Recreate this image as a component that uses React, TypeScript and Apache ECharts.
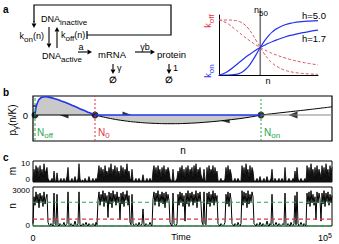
import React, { useEffect, useRef } from 'react';
import * as echarts from 'echarts';

const FONT = 'Liberation Sans, Arial, Helvetica, sans-serif';
const BLUE = '#2233ee';
const RED = '#dd3344';
const RED_DASH = '#d9505e';
const GREEN = '#1fa64f';
const GREY_FILL = '#c9c9c9';

// ---- panel a inset: activation / deactivation rates vs n ----
const HILL_N = [0, 0.2, 0.4, 0.5, 0.6, 0.7, 0.8, 0.9, 1.0, 1.1, 1.2, 1.3, 1.4, 1.6, 1.8, 2.0, 2.2, 2.4];
const KON_H5 = [0, 0.0003, 0.01, 0.03, 0.072, 0.144, 0.247, 0.371, 0.5, 0.617, 0.713, 0.788, 0.843, 0.913, 0.95, 0.97, 0.981, 0.988];
const KON_H17 = [0, 0.061, 0.174, 0.235, 0.296, 0.353, 0.406, 0.455, 0.5, 0.54, 0.577, 0.61, 0.639, 0.69, 0.731, 0.765, 0.793, 0.816];
const KOFF_H5 = [1, 0.9997, 0.99, 0.97, 0.928, 0.856, 0.753, 0.629, 0.5, 0.383, 0.287, 0.212, 0.157, 0.087, 0.05, 0.03, 0.019, 0.012];
const KOFF_H17 = [1, 0.939, 0.826, 0.765, 0.704, 0.647, 0.594, 0.545, 0.5, 0.46, 0.423, 0.39, 0.361, 0.31, 0.269, 0.235, 0.207, 0.184];
const N50 = 1;

// ---- panel b: p_gamma(n/K) ----
const B_N_OFF = 2;
const B_N_0 = 62;
const B_N_ON = 228;
const B_N_MAX = 299;
const BLUE_N = [2, 2.5, 3, 4, 5, 6, 8, 10, 13, 17, 22, 28, 35, 42, 50, 56, 62];
const BLUE_P = [0, 4, 7.5, 11, 13.5, 15.5, 17.3, 18, 18.2, 17.6, 16.2, 14.1, 11.4, 8.4, 4.9, 2.4, 0];
const BLACK_N = [62, 75, 90, 105, 120, 137, 155, 175, 195, 215, 228, 250, 275, 299];
const BLACK_P = [0, -3, -5.6, -7.3, -8.3, -8.7, -8.3, -7, -5, -2.4, 0, 2.5, 5.3, 8.2];

// ---- panel c: stochastic trajectories (protein n in hundreds, mRNA m) ----
const N_TRACE_H = [
  2, 24, 17, 28, 19, 26, 15, 27, 20, 25,
  16, 28, 18, 23, 26, 3, 1, 0, 2, 1,
  0, 27, 2, 1, 26, 1, 0, 2, 1, 0,
  1, 3, 0, 1, 2, 28, 1, 0, 2, 1,
  0, 1, 4, 1, 0, 2, 28, 1, 0, 1,
  2, 0, 1, 3, 1, 0, 2, 1, 0, 1,
  2, 1, 0, 3, 1, 21, 28, 17, 26, 20,
  29, 16, 27, 19, 25, 7, 28, 18, 27, 15,
  29, 20, 26, 17, 28, 19, 24, 5, 27, 18,
  28, 16, 26, 21, 29, 17, 25, 3, 1, 26,
  2, 0, 1, 2, 1, 0, 3, 1, 0, 2,
  14, 1, 0, 2, 1, 0, 1, 3, 1, 0,
  22, 28, 17, 27, 20, 29, 16, 26, 19, 28,
  18, 27, 15, 28, 20, 26, 21, 3, 1, 0,
  27, 2, 1, 0, 2, 26, 17, 28, 19, 27,
  16, 25, 4, 27, 18, 29, 16, 27, 20, 28,
  17, 26, 19, 29, 15, 27, 20, 28, 18, 3,
  1, 28, 2, 1, 27, 18, 28, 16, 26, 19,
  29, 17, 27, 20, 25, 2, 1, 0, 2, 1,
  0, 1, 3, 26, 18, 28, 16, 27, 22, 2,
  1, 0, 2, 1, 0, 3, 1, 0, 2, 29,
  17, 28, 19, 27, 15, 29, 18, 26, 20, 28,
  24, 2, 1, 0, 2, 1, 0, 3, 1, 0,
  2, 1, 0, 1, 4, 1, 0, 2, 1, 26,
  2, 0, 1, 3, 1, 0, 2, 1, 0, 1,
  2, 1, 27, 1, 0, 2, 1, 0, 3, 1,
  0, 2, 25, 1, 28, 2, 0, 1, 3, 1,
  0, 2, 1, 0, 27, 18, 28, 16, 29, 19,
  26, 17, 24, 5, 28, 19, 27, 22, 4, 27,
  18, 29, 16, 27, 20, 28, 17, 26, 19, 25,
];
const M_TRACE = [
  1, 7, 3, 9, 5, 8, 2, 9, 4, 7,
  3, 10, 5, 6, 8, 2, 1, 0, 1, 2,
  0, 6, 1, 0, 5, 1, 0, 1, 2, 0,
  1, 2, 0, 1, 3, 8, 1, 0, 1, 2,
  0, 1, 3, 1, 0, 2, 10, 2, 0, 1,
  1, 0, 2, 1, 0, 1, 3, 1, 0, 1,
  2, 0, 1, 2, 1, 5, 9, 3, 8, 4,
  7, 2, 9, 5, 6, 3, 8, 4, 10, 3,
  7, 5, 9, 2, 8, 4, 6, 2, 9, 4,
  8, 3, 7, 5, 10, 4, 6, 2, 1, 7,
  1, 0, 1, 2, 0, 1, 2, 1, 0, 1,
  4, 1, 0, 1, 2, 0, 1, 2, 1, 0,
  6, 9, 4, 8, 3, 9, 5, 7, 2, 8,
  4, 9, 3, 7, 5, 8, 6, 2, 1, 0,
  7, 1, 0, 1, 2, 6, 3, 8, 4, 9,
  3, 7, 2, 8, 4, 9, 3, 7, 5, 8,
  2, 9, 4, 10, 3, 7, 5, 8, 4, 2,
  1, 7, 1, 0, 8, 3, 9, 4, 7, 5,
  9, 3, 8, 4, 6, 1, 0, 1, 2, 0,
  1, 0, 2, 8, 3, 9, 4, 7, 5, 1,
  0, 1, 2, 0, 1, 2, 1, 0, 1, 9,
  4, 8, 3, 10, 5, 7, 2, 9, 4, 8,
  6, 1, 0, 1, 2, 0, 1, 3, 1, 0,
  1, 2, 0, 1, 3, 1, 0, 1, 2, 7,
  1, 0, 2, 1, 0, 1, 2, 0, 1, 2,
  1, 0, 8, 1, 0, 1, 2, 1, 0, 1,
  2, 1, 6, 1, 8, 2, 0, 1, 2, 1,
  0, 1, 2, 0, 9, 4, 8, 3, 10, 5,
  7, 2, 8, 3, 9, 4, 7, 5, 2, 9,
  4, 8, 3, 10, 5, 7, 2, 9, 4, 8,
];
const T_END = 1e5;
const M_TICKS = ['10', '0'];
const N_TICKS = ['3000', '0'];
const C_N_ON = 1950;
const C_N_0 = 560;
const C_N_OFF = 0;

const RICH: any = {
  s: { fontFamily: FONT, fontSize: 8, lineHeight: 8, verticalAlign: 'bottom' },
  u: { fontFamily: FONT, fontSize: 7, lineHeight: 7, verticalAlign: 'top' },
};

function T(x: number, y: number, text: string, o: any = {}) {
  return {
    type: 'text', x, y, rotation: o.rot || 0, z: 100, silent: true,
    style: {
      text, fontFamily: FONT, fontSize: o.size || 9, fontWeight: o.bold ? 'bold' : 'normal',
      fill: o.color || '#000', align: o.align || 'left', verticalAlign: 'middle',
      lineHeight: o.lh || 15, rich: RICH,
    },
  };
}

function arrowEl(x1: number, y1: number, x2: number, y2: number, L = 4.5, W = 2.4) {
  const dx = x2 - x1, dy = y2 - y1;
  const len = Math.hypot(dx, dy);
  const ux = dx / len, uy = dy / len;
  const bx = x2 - ux * L, by = y2 - uy * L;
  const px = -uy, py = ux;
  return [
    { type: 'line', silent: true, shape: { x1, y1, x2: bx, y2: by }, style: { stroke: '#000', lineWidth: 1.1 } },
    { type: 'polygon', silent: true, shape: { points: [[x2, y2], [bx + px * W, by + py * W], [bx - px * W, by - py * W]] }, style: { fill: '#000' } },
  ];
}

function zip(xs: number[], ys: number[]) {
  return xs.map((x, i) => [x, ys[i]]);
}

export default function App() {
  const ref = useRef<HTMLDivElement>(null);
  useEffect(() => {
    document.body.style.margin = '0';
    const chart = echarts.init(ref.current!, undefined, { renderer: 'svg' });
    const dt = T_END / (N_TRACE_H.length - 1);
    const nData = N_TRACE_H.map((v, i) => [i * dt, v * 100]);
    const mData = M_TRACE.map((v, i) => [i * dt, v]);
    const noAxis = { axisLine: { show: false }, axisTick: { show: false }, axisLabel: { show: false }, splitLine: { show: false } };
    const lbl = { fontFamily: FONT, color: '#000', fontSize: 8, margin: 3, lineHeight: 7 };
    const line = (name: string, x: number, y: number, data: any[], style: any, extra: any = {}) => ({
      type: 'line', name, xAxisIndex: x, yAxisIndex: y, data, showSymbol: false, symbol: 'none',
      silent: true, lineStyle: style, ...extra,
    });
    const hline = (x0: number, x1: number, v: number) => [[x0, v], [x1, v]];

    const graphic: any[] = [
      // panel a diagram
      T(3, 9, 'a', { bold: true, size: 10 }),
      { type: 'polyline', silent: true, shape: { points: [[34, 22], [34, 5], [171, 5], [171, 35], [87, 35]] }, style: { stroke: '#000', fill: null, lineWidth: 1.2 } },
      ...arrowEl(34, 21, 34, 28),
      { type: 'line', silent: true, shape: { x1: 87, y1: 31, x2: 87, y2: 39 }, style: { stroke: '#000', lineWidth: 1.2 } },
      T(41, 19, 'DNA{s|inactive}'),
      ...arrowEl(49, 27, 49, 48),
      ...arrowEl(57, 48, 57, 27),
      T(44, 36, 'k{s|on}(n)', { align: 'right' }),
      T(61, 35, 'k{s|off}(n)'),
      T(42, 56, 'DNA{s|active}'),
      ...arrowEl(78, 52, 92, 52),
      T(81, 47, 'a', { align: 'center' }),
      T(98, 54, 'mRNA', { size: 9.5 }),
      ...arrowEl(135, 52, 155, 52),
      T(145, 47, 'γb', { align: 'center' }),
      T(157, 54, 'protein', { size: 9.5 }),
      ...arrowEl(113, 64, 113, 74),
      T(117, 68, 'γ'),
      T(113, 80, '∅', { align: 'center', bold: true }),
      ...arrowEl(169, 64, 169, 74),
      T(173, 68, '1'),
      T(169, 80, '∅', { align: 'center', bold: true }),
      // panel a inset labels
      T(208, 21, 'k{s|off}', { rot: Math.PI / 2, color: RED, align: 'center' }),
      T(208, 71, 'k{s|on}', { rot: Math.PI / 2, color: BLUE, align: 'center' }),
      T(254, 10, 'n{s|50}'),
      T(302, 15, 'h=5.0', { size: 9.5 }),
      T(302, 38, 'h=1.7', { size: 9.5 }),
      T(268, 81, 'n', { align: 'center' }),
      // panel b labels
      T(3, 92, 'b', { bold: true, size: 10 }),
      T(12, 120, 'p{s|γ}(n/K)', { rot: Math.PI / 2, align: 'center', size: 10 }),
      T(183, 150, 'n', { align: 'center', size: 10 }),
      T(37, 132, 'N{s|off}', { color: GREEN, size: 10 }),
      T(98, 132, 'N{s|0}', { color: RED, size: 10 }),
      T(264, 132, 'N{s|on}', { color: GREEN, size: 10 }),
      // panel c labels
      T(3, 157, 'c', { bold: true, size: 10 }),
      T(12, 171, 'm', { rot: Math.PI / 2, align: 'center', size: 10 }),
      T(12, 206, 'n', { rot: Math.PI / 2, align: 'center', size: 10 }),
      T(30, 163.5, M_TICKS[0], { align: 'right', size: 8, lh: 8 }),
      T(30, 179.5, M_TICKS[1], { align: 'right', size: 8, lh: 8 }),
      T(30, 190, N_TICKS[0], { align: 'right', size: 8, lh: 8 }),
      T(30, 225.5, N_TICKS[1], { align: 'right', size: 8, lh: 8 }),
      T(181, 237, 'Time', { align: 'center' }),
    ];

    chart.setOption({
      animation: false,
      graphic: { elements: graphic },
      grid: [
        { left: 219, top: 15, width: 99, height: 60, outerBoundsMode: 'none' },
        { left: 33, top: 96, width: 299, height: 45, show: true, borderColor: '#000', borderWidth: 1.2, outerBoundsMode: 'none' },
        { left: 33, top: 161, width: 299, height: 21, show: true, borderColor: '#000', borderWidth: 1, outerBoundsMode: 'none' },
        { left: 33, top: 187, width: 299, height: 39, show: true, borderColor: '#000', borderWidth: 1, outerBoundsMode: 'none' },
      ],
      xAxis: [
        { gridIndex: 0, type: 'value', min: 0, max: 2.4, ...noAxis, axisLine: { show: true, onZero: false, lineStyle: { color: '#000', width: 1 } } },
        { gridIndex: 1, type: 'value', min: 0, max: B_N_MAX, ...noAxis },
        { gridIndex: 2, type: 'value', min: 0, max: T_END, ...noAxis },
        {
          gridIndex: 3, type: 'value', min: 0, max: T_END, interval: T_END, ...noAxis,
          axisLabel: {
            show: true, ...lbl, fontSize: 9, margin: 6, lineHeight: 11, alignMaxLabel: 'right',
            formatter: (v: number) => (v === 0 ? '0' : '10{u|5}'), rich: RICH,
          },
        },
      ],
      yAxis: [
        { gridIndex: 0, type: 'value', min: 0, max: 1.0909, ...noAxis, axisLine: { show: true, onZero: false, lineStyle: { color: '#000', width: 1 } } },
        {
          gridIndex: 1, type: 'value', min: -26, max: 19, interval: 26, ...noAxis,
          axisLabel: { show: true, ...lbl, fontSize: 9.5, lineHeight: 10, margin: 5, formatter: (v: number) => (v === 0 ? '0' : '') },
        },
        { gridIndex: 2, type: 'value', min: 0, max: 11.5, interval: 10, ...noAxis },
        { gridIndex: 3, type: 'value', min: 0, max: 3200, interval: 3000, ...noAxis },
      ],
      series: [
        // panel a inset
        line('n50', 0, 0, [[N50, 0], [N50, 1.22]], { color: '#777', width: 1.6 }, { clip: false }),
        line('koff h=5', 0, 0, zip(HILL_N, KOFF_H5), { color: RED_DASH, width: 1, type: [3, 2] }, { smooth: true }),
        line('koff h=1.7', 0, 0, zip(HILL_N, KOFF_H17), { color: RED_DASH, width: 1, type: [3, 2] }, { smooth: true }),
        line('kon h=5', 0, 0, zip(HILL_N, KON_H5), { color: BLUE, width: 1.2 }, { smooth: true }),
        line('kon h=1.7', 0, 0, zip(HILL_N, KON_H17), { color: BLUE, width: 1.2 }, { smooth: true }),
        // panel b
        line('fill below', 1, 1, zip(BLACK_N.slice(0, 11), BLACK_P.slice(0, 11)), { color: '#000', width: 1 }, { smooth: true, areaStyle: { color: GREY_FILL, opacity: 1 } }),
        line('black rest', 1, 1, zip(BLACK_N.slice(10), BLACK_P.slice(10)), { color: '#000', width: 1 }, { smooth: true }),
        line('blue fill', 1, 1, zip(BLUE_N, BLUE_P), { color: BLUE, width: 1.6 }, { smooth: true, areaStyle: { color: GREY_FILL, opacity: 1 } }),
        line('zero black', 1, 1, hline(0, B_N_0, 0), { color: '#000', width: 1 }),
        line('zero grey', 1, 1, hline(B_N_ON, B_N_MAX, 0), { color: '#888', width: 1.2 }),
        line('Noff', 1, 1, [[B_N_OFF, -26], [B_N_OFF, 19]], { color: GREEN, width: 1, type: [3, 2] }),
        line('N0', 1, 1, [[B_N_0, -26], [B_N_0, 19]], { color: RED, width: 1, type: [2, 2] }),
        line('Non', 1, 1, [[B_N_ON, -26], [B_N_ON, 19]], { color: GREEN, width: 1, type: [2, 2] }),
        line('zero blue', 1, 1, hline(B_N_0, B_N_ON, 0), { color: BLUE, width: 1.6 }),
        {
          type: 'scatter', xAxisIndex: 1, yAxisIndex: 1, silent: true, symbol: 'triangle', symbolSize: [7, 9],
          itemStyle: { color: '#000' },
          data: [
            { value: [31, 0], symbolRotate: 90 },
            { value: [94, 0], symbolRotate: -90 },
            { value: [192, -5.2], symbolRotate: 96 },
            { value: [260, 0], symbolRotate: 90 },
            { value: [2.5, 9], symbolRotate: 90, symbolSize: [5, 7] },
          ],
        },
        {
          type: 'scatter', xAxisIndex: 1, yAxisIndex: 1, silent: true, symbol: 'circle', symbolSize: 7,
          itemStyle: { color: '#000' },
          data: [[B_N_OFF, 0], [B_N_0, 0], [B_N_ON, 0]],
        },
        // panel c
        line('m', 2, 2, mData, { color: '#000', width: 0.8 }, { areaStyle: { color: '#111', opacity: 1 } }),
        line('n', 3, 3, nData, { color: '#000', width: 1 }),
        line('Non c', 3, 3, hline(0, T_END, C_N_ON), { color: GREEN, width: 1.2, type: [4, 3] }),
        line('N0 c', 3, 3, hline(0, T_END, C_N_0), { color: RED, width: 1.2, type: [4, 3] }),
        line('Noff c', 3, 3, hline(0, T_END, C_N_OFF), { color: GREEN, width: 1.4, type: [4, 3] }),
      ],
    });
    return () => chart.dispose();
  }, []);
  return <div ref={ref} style={{ width: 339, height: 244 }} />;
}
